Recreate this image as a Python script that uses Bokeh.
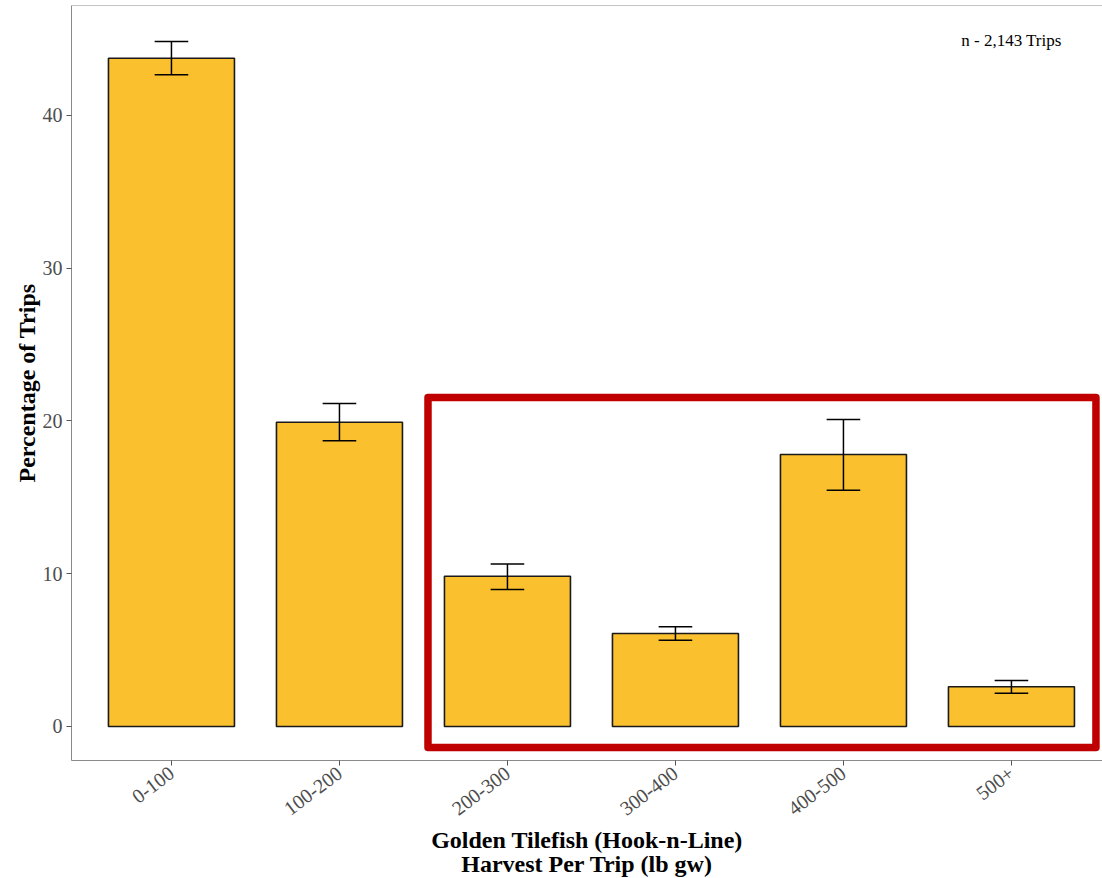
import math
import numpy as np
from bokeh.plotting import figure
from bokeh.models import Range1d, FixedTicker, Span
from bokeh.core.properties import value
from bokeh.embed import file_html
from bokeh.resources import INLINE

# ---- data ----
categories = ["0-100", "100-200", "200-300", "300-400", "400-500", "500+"]
pct_trips = [43.75, 19.92, 9.84, 6.09, 17.81, 2.60]
err_low = [42.66, 18.70, 8.97, 5.65, 15.47, 2.18]
err_high = [44.84, 21.15, 10.63, 6.53, 20.10, 3.01]
y_ticks = [0, 10, 20, 30, 40]
note_text = "n - 2,143 Trips"
highlight_first = "200-300"
highlight_last = "500+"

SERIF = "Liberation Serif"
x = np.arange(len(categories))

Y_TOP = 47.2
p = figure(
    frame_width=1031, frame_height=755,
    x_range=Range1d(-0.595, 5.542), y_range=Range1d(-2.226, Y_TOP),
    output_backend="svg", toolbar_location=None,
    min_border_left=71, min_border_right=0, min_border_top=5, min_border_bottom=4,
)
p.xgrid.visible = False
p.ygrid.visible = False
p.outline_line_color = None
p.background_fill_color = "white"
p.border_fill_color = "white"

# bars
p.vbar(x=x, top=pct_trips, bottom=0, width=0.75,
       fill_color="#FBC02D", line_color="#1a1a1a", line_width=1.6)

# error bars
cap = 0.1
p.segment(x0=x, y0=err_low, x1=x, y1=err_high, line_color="black", line_width=1.5)
p.segment(x0=x - cap, y0=err_high, x1=x + cap, y1=err_high, line_color="black", line_width=1.5)
p.segment(x0=x - cap, y0=err_low, x1=x + cap, y1=err_low, line_color="black", line_width=1.5)

# highlight box
i0 = categories.index(highlight_first)
i1 = categories.index(highlight_last)
p.quad(left=[i0 - 0.473], right=[i1 + 0.503], top=[21.54], bottom=[-1.37],
       fill_color=None, line_color="#C00000", line_width=7.5, line_join="round")

# annotation
p.text(x=[x[-1]], y=[44.9], text=[note_text], text_font=value(SERIF),
       text_font_size="17px", text_align="center", text_baseline="middle",
       text_color="black")

# top border
p.add_layout(Span(location=Y_TOP, dimension="width", line_color="#8a8a8a", line_width=1))

# axes
for ax in (p.xaxis[0], p.yaxis[0]):
    ax.axis_line_color = "#8a8a8a"
    ax.axis_line_width = 1
    ax.major_tick_line_color = "#555555"
    ax.major_tick_out = 5
    ax.major_tick_in = 0
    ax.minor_tick_line_color = None
    ax.major_label_text_font = SERIF
    ax.major_label_text_font_size = "20px"
    ax.major_label_text_color = "#4d4d4d"
    ax.axis_label_text_font = SERIF
    ax.axis_label_text_font_size = "24px"
    ax.axis_label_text_font_style = "bold"
    ax.axis_label_text_color = "black"

p.yaxis.ticker = FixedTicker(ticks=y_ticks)
p.yaxis.axis_label = "Percentage of Trips"
p.yaxis.major_label_standoff = 4
p.yaxis.axis_label_standoff = 0

p.xaxis.ticker = FixedTicker(ticks=[int(i) for i in x])
p.xaxis.major_label_overrides = {int(i): c for i, c in zip(x, categories)}
p.xaxis.major_label_orientation = math.radians(37)
p.xaxis.major_label_standoff = 5
p.xaxis.axis_label = "Golden Tilefish (Hook-n-Line)\nHarvest Per Trip (lb gw)"
p.xaxis.axis_label_standoff = 2
p.xaxis.axis_label_text_line_height = 0.95

open("out.html", "w").write(file_html(p, INLINE))
